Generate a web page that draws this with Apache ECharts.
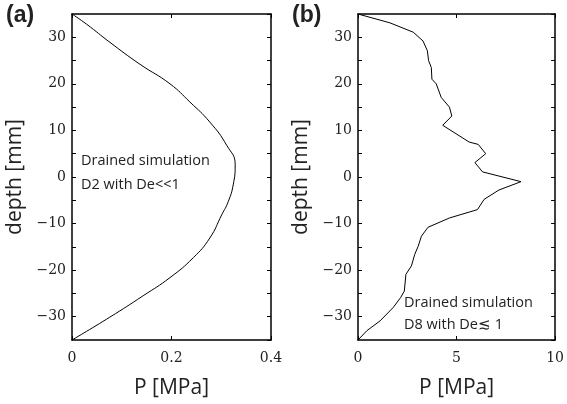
<!DOCTYPE html>
<html><head><meta charset="utf-8">
<script src="https://cdn.jsdelivr.net/npm/echarts@6/dist/echarts.min.js"></script>
<style>html,body{margin:0;padding:0;background:#fff}#c{width:567px;height:404px}</style>
</head><body><div id="c"></div>
<script>
// Panel (a): drained simulation D2, De<<1
const pressureA = [0, 0.0295, 0.0764, 0.1367, 0.197, 0.237, 0.277, 0.311, 0.328, 0.324, 0.314, 0.301, 0.277, 0.244, 0.197, 0.143, 0.076, 0];
const depthA    = [35, 32.8, 28.9, 24.2, 20, 16.1, 11.8, 6.8, 2.6, -1.7, -5.3, -8.1, -13.1, -17.3, -21.6, -25.5, -30.1, -35];
// Panel (b): drained simulation D8, De ≲ 1
const pressureB = [0, 1.62, 2.80, 3.30, 3.52, 3.58, 3.72, 3.75, 3.97, 4.22, 4.64, 4.76, 4.30, 5.64, 6.10, 6.48, 5.93, 6.32, 8.27, 7.15, 6.40, 6.06, 4.64, 3.55, 3.22, 3.05, 2.88, 2.71, 2.43, 2.35, 2.16, 1.79, 1.12, 0.45, 0];
const depthB    = [35, 33.1, 31.1, 29.2, 27.1, 25, 23.5, 21, 20, 17.1, 15, 13.1, 11.1, 7.5, 7, 5, 3.1, 1.1, -1, -2.8, -4.8, -7, -8.8, -10.8, -12.7, -14.9, -16.6, -19.1, -20.9, -24.5, -25.9, -28, -30.9, -33, -35];
const xTicksA = [0, 0.2, 0.4];
const xTicksB = [0, 5, 10];
const yRange = [-35, 35];

const tickFmtY = v => (v % 10 === 0) ? '{n|' + String(v).replace('-', '\u2212') + '}' : '';
const xFmtA = v => { const t = xTicksA.find(x => Math.abs(x - v) < 1e-9); return t === undefined ? '' : '{n|' + t + '}'; };
const xFmtB = v => { const t = xTicksB.find(x => Math.abs(x - v) < 1e-9); return t === undefined ? '' : '{n|' + t + '}'; };

const numStyle = { fontFamily: 'DejaVu Serif', fontSize: 14, color: '#222' };

function xAx(gi, max, interval, fmt, pos, show) {
  return {
    type: 'value', gridIndex: gi, min: 0, max: max, interval: interval, position: pos,
    axisLine: { show: true, onZero: false, lineStyle: { color: '#000', width: 1.5 } },
    axisTick: { show: true, inside: true, length: 4, lineStyle: { color: '#000' } },
    axisLabel: { show: show, formatter: fmt, margin: 11, fontFamily: 'DejaVu Serif', fontSize: 14, color: '#222', rich: { n: numStyle } },
    splitLine: { show: false },
    name: show ? 'P [MPa]' : '', nameLocation: 'middle', nameGap: 38,
    nameTextStyle: { fontFamily: 'Open Sans', fontSize: 21, color: '#222' }
  };
}
function yAx(gi, pos, show) {
  return {
    type: 'value', gridIndex: gi, min: yRange[0], max: yRange[1], interval: 5, position: pos,
    axisLine: { show: true, onZero: false, lineStyle: { color: '#000', width: 1.5 } },
    axisTick: { show: true, inside: true, length: 4, lineStyle: { color: '#000' } },
    axisLabel: { show: show, formatter: tickFmtY, margin: 6, showMinLabel: false, showMaxLabel: false,
                 fontFamily: 'DejaVu Serif', fontSize: 14, color: '#222', rich: { n: numStyle } },
    splitLine: { show: false },
    name: show ? 'depth [mm]' : '', nameLocation: 'middle', nameGap: 46,
    nameTextStyle: { fontFamily: 'Open Sans', fontSize: 21, color: '#222' }
  };
}

const chart = echarts.init(document.getElementById('c'), null, { renderer: 'canvas' });
chart.setOption({
  animation: false,
  backgroundColor: '#fff',
  grid: [
    { left: 72, top: 14, width: 199, height: 328 },
    { left: 358, top: 14, width: 199, height: 328 }
  ],
  xAxis: [
    xAx(0, 0.4, 0.2, xFmtA, 'bottom', true),
    xAx(0, 0.4, 0.2, xFmtA, 'top', false),
    xAx(1, 10, 5, xFmtB, 'bottom', true),
    xAx(1, 10, 5, xFmtB, 'top', false)
  ],
  yAxis: [
    yAx(0, 'left', true),
    yAx(0, 'right', false),
    yAx(1, 'left', true),
    yAx(1, 'right', false)
  ],
  series: [
    { type: 'line', xAxisIndex: 0, yAxisIndex: 0, showSymbol: false, smooth: true,
      lineStyle: { color: '#000', width: 1 },
      data: pressureA.map((p, i) => [p, depthA[i]]) },
    { type: 'line', xAxisIndex: 2, yAxisIndex: 2, showSymbol: false,
      lineStyle: { color: '#000', width: 1 },
      data: pressureB.map((p, i) => [p, depthB[i]]) }
  ],
  graphic: [
    { type: 'text', left: 6, top: 4, style: { text: '(a)', font: 'bold 23px "Liberation Sans"', fill: '#222' } },
    { type: 'text', left: 292, top: 4, style: { text: '(b)', font: 'bold 23px "Liberation Sans"', fill: '#222' } },
    { type: 'text', left: 81, top: 149, style: { text: 'Drained simulation\nD2 with De<<1', font: '14.5px "Open Sans"', lineHeight: 24, fill: '#222' } },
    { type: 'text', left: 404, top: 292, style: { text: 'Drained simulation\nD8 with De\u2272 1', font: '14.5px "Open Sans"', lineHeight: 22, fill: '#222' } }
  ]
});
</script></body></html>
